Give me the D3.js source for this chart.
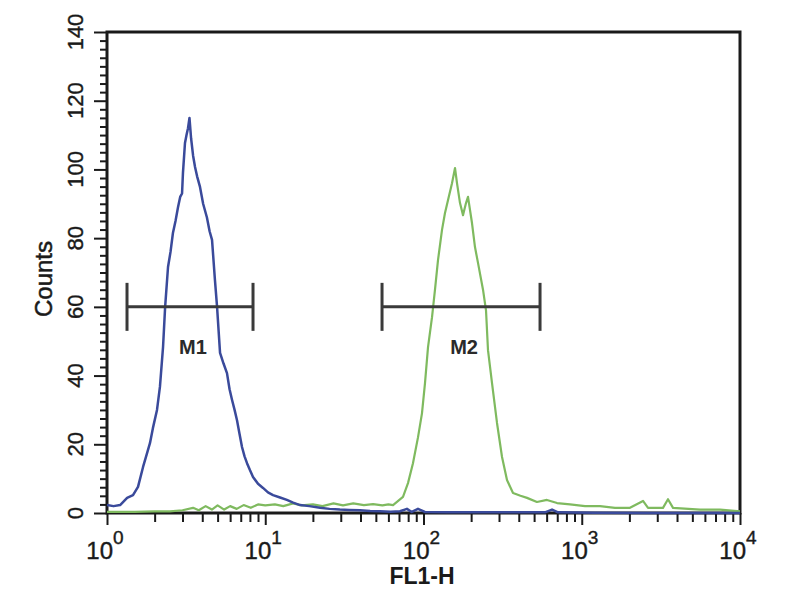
<!DOCTYPE html>
<html><head><meta charset="utf-8">
<script src="https://cdn.jsdelivr.net/npm/d3@7"></script>
<style>body{margin:0;background:#fff}svg{display:block}</style>
</head><body><svg id="c" width="800" height="600"></svg>
<script>
// ---- data ----
const blueFL1 = [1.00,1.10,1.21,1.34,1.46,1.57,1.69,1.78,1.87,1.95,2.07,2.16,2.26,2.33,2.43,2.52,2.61,2.71,2.81,2.90,2.98,3.02,3.11,3.18,3.25,3.32,3.40,3.50,3.60,3.71,3.87,4.05,4.28,4.45,4.61,4.81,4.96,5.18,5.45,5.73,5.95,6.17,6.40,6.63,6.88,7.13,7.40,7.67,8.00,8.37,9.00,9.68,10.4,11.2,12.4,13.7,15.0,16.6,19.0,22.2,25.5,29.6,34.0,39.7,46.0,53.1,62.0,71.0,78.6,84.3,92.3,102,140,228,400,586,649,708,1200,2700,10000];
const blueCounts = [2.3,2.0,2.3,4.4,5.2,7.6,13.4,17.0,20.4,24.7,30.0,36.7,48.3,60.0,71.6,76.0,81.5,85.0,89.0,92.0,93.0,99.0,107.7,110.0,112.0,115.0,109.0,104.0,100.7,98.0,94.9,90.0,86.0,82.0,79.5,67.8,60.0,46.6,43.5,40.7,36.0,32.9,30.0,27.0,23.0,19.2,16.5,14.5,12.5,10.5,8.5,7.3,6.0,5.2,4.5,3.8,3.0,2.3,2.0,1.5,1.2,1.0,0.9,0.8,0.6,0.5,0.4,0.5,1.2,0.3,1.2,0.3,0.2,0.2,0.2,0.2,1.0,0.2,0.1,0,0];
const greenFL1 = [1.00,1.50,2.00,2.50,3.00,3.50,3.80,4.20,4.60,5.00,5.50,6.00,6.60,7.30,8.10,9.00,10.0,11.5,13.0,15.0,17.0,20.0,23.0,27.0,31.0,36.0,42.0,48.0,55.0,60.0,64.2,74.2,79.8,85.8,92.3,97.8,102.2,106.8,113.2,118.2,123.5,130.9,136.7,142.8,151.4,158.2,162.8,170.1,177.7,185.6,191.1,202.5,211.5,221.0,237.7,248.3,255.6,271.0,291.4,313.5,337.0,367.8,410,451,521,603,698,843,1049,1304,1622,2018,2439,2623,3261,3507,3774,5589,7479,10000];
const greenCounts = [0.3,0.3,0.5,0.5,0.8,1.5,0.8,2.0,1.0,2.2,1.0,2.0,1.2,2.3,1.5,2.5,2.2,2.5,2.0,2.8,2.2,2.5,2.0,2.8,2.2,2.8,2.3,2.6,2.2,2.5,2.3,4.7,8.7,14.5,22.0,29.0,37.8,48.3,57.0,65.0,73.6,82.4,87.3,91.0,96.0,100.4,96.0,90.2,86.7,90.2,92.0,84.4,77.4,72.8,65.0,59.0,47.4,37.8,26.2,16.3,9.6,5.8,5.0,4.4,3.2,3.8,2.9,2.5,2.0,2.0,1.5,1.5,3.5,1.5,1.5,4.0,1.5,1.0,1.0,0.5];
const yTicks = [0,20,40,60,80,100,120,140];
const xDecades = [1,10,100,1000,10000];
const xExponents = ["0","1","2","3","4"];
const markerNames = ["M1","M2"];
const markerLo = [1.338, 54.7];
const markerHi = [8.37, 545];
const markerLevel = [60, 60];
const xTitle = "FL1-H";
const yTitle = "Counts";

// ---- drawing ----
const FONT = "'Liberation Sans', Arial, sans-serif";
const INK = "#1a1a1a";
const svg = d3.select("#c");
const L = 107, T = 32, R = 740, B = 513;
const x = d3.scaleLog().domain([1, 10000]).range([L, R]);
const y = d3.scaleLinear().domain([0, 140]).range([B, T]);

// y axis major + minor ticks
const yMinor = d3.range(0, 140.01, 2.5).filter(v => v % 20 !== 0);
svg.append("g").attr("transform", `translate(${L},0)`)
  .call(d3.axisLeft(y).tickValues(yMinor).tickSize(7).tickFormat(""))
  .call(g => g.select(".domain").remove())
  .selectAll("line").attr("stroke", INK).attr("stroke-width", 2);
svg.append("g").attr("transform", `translate(${L},0)`)
  .call(d3.axisLeft(y).tickValues(yTicks).tickSize(13).tickFormat(""))
  .call(g => g.select(".domain").remove())
  .selectAll("line").attr("stroke", INK).attr("stroke-width", 2);

// x axis major + minor ticks
const xMinor = [];
xDecades.slice(0, -1).forEach(d => { for (let k = 2; k <= 9; k++) xMinor.push(d * k); });
svg.append("g").attr("transform", `translate(0,${B})`)
  .call(d3.axisBottom(x).tickValues(xMinor).tickSize(9).tickFormat(""))
  .call(g => g.select(".domain").remove())
  .selectAll("line").attr("stroke", INK).attr("stroke-width", 2);
svg.append("g").attr("transform", `translate(0,${B})`)
  .call(d3.axisBottom(x).tickValues(xDecades).tickSize(12).tickFormat(""))
  .call(g => g.select(".domain").remove())
  .selectAll("line").attr("stroke", INK).attr("stroke-width", 2);

// y tick labels (rotated)
svg.append("g").selectAll("text").data(yTicks).join("text")
  .attr("transform", d => `translate(83,${y(d)}) rotate(-90)`)
  .attr("text-anchor", "middle")
  .attr("font-family", FONT).attr("font-size", 22).attr("fill", INK)
  .attr("stroke", INK).attr("stroke-width", 0.4)
  .text(d => d);

// x tick labels 10^n
const xl = svg.append("g").selectAll("text").data(xDecades).join("text")
  .attr("x", d => x(d) - 2).attr("y", 559)
  .attr("text-anchor", "middle")
  .attr("font-family", FONT).attr("fill", INK)
  .attr("stroke", INK).attr("stroke-width", 0.4);
xl.append("tspan").attr("font-size", 24).text("10");
xl.append("tspan").attr("font-size", 19).attr("dy", -15).text((d, i) => xExponents[i]);

// axis titles
svg.append("text").attr("x", 422).attr("y", 584).attr("text-anchor", "middle")
  .attr("font-family", FONT).attr("font-size", 23).attr("font-weight", "bold").attr("fill", INK)
  .text(xTitle);
svg.append("text").attr("transform", "translate(52,279) rotate(-90)").attr("text-anchor", "middle")
  .attr("font-family", FONT).attr("font-size", 24).attr("fill", INK)
  .attr("stroke", INK).attr("stroke-width", 0.5)
  .text(yTitle);

// frame
svg.append("rect").attr("x", L).attr("y", T).attr("width", R - L).attr("height", B - T)
  .attr("fill", "none").attr("stroke", INK).attr("stroke-width", 3);

// histograms
const line = d3.line().x(d => x(d[0])).y(d => y(d[1]));
svg.append("path").datum(greenFL1.map((v, i) => [v, greenCounts[i]]))
  .attr("d", line).attr("fill", "none").attr("stroke", "#7fba5f").attr("stroke-width", 2.2)
  .attr("stroke-linejoin", "round");
svg.append("path").datum(blueFL1.map((v, i) => [v, blueCounts[i]]))
  .attr("d", line).attr("fill", "none").attr("stroke", "#3a4a9b").attr("stroke-width", 2.5)
  .attr("stroke-linejoin", "round");

// markers
const mk = svg.append("g").selectAll("g").data(markerNames).join("g");
mk.append("line").attr("x1", (d, i) => x(markerLo[i])).attr("x2", (d, i) => x(markerHi[i]))
  .attr("y1", (d, i) => y(markerLevel[i])).attr("y2", (d, i) => y(markerLevel[i]));
mk.append("line").attr("x1", (d, i) => x(markerLo[i])).attr("x2", (d, i) => x(markerLo[i]))
  .attr("y1", (d, i) => y(markerLevel[i]) - 24).attr("y2", (d, i) => y(markerLevel[i]) + 24);
mk.append("line").attr("x1", (d, i) => x(markerHi[i])).attr("x2", (d, i) => x(markerHi[i]))
  .attr("y1", (d, i) => y(markerLevel[i]) - 24).attr("y2", (d, i) => y(markerLevel[i]) + 24);
mk.selectAll("line").attr("stroke", "#3a3a3a").attr("stroke-width", 3);
mk.append("text")
  .attr("x", (d, i) => (x(markerLo[i]) + x(markerHi[i])) / 2 + 3)
  .attr("y", (d, i) => y(markerLevel[i]) + 47)
  .attr("text-anchor", "middle")
  .attr("font-family", FONT).attr("font-size", 20).attr("font-weight", "bold").attr("fill", "#2a2a2a")
  .text(d => d);
</script></body></html>
